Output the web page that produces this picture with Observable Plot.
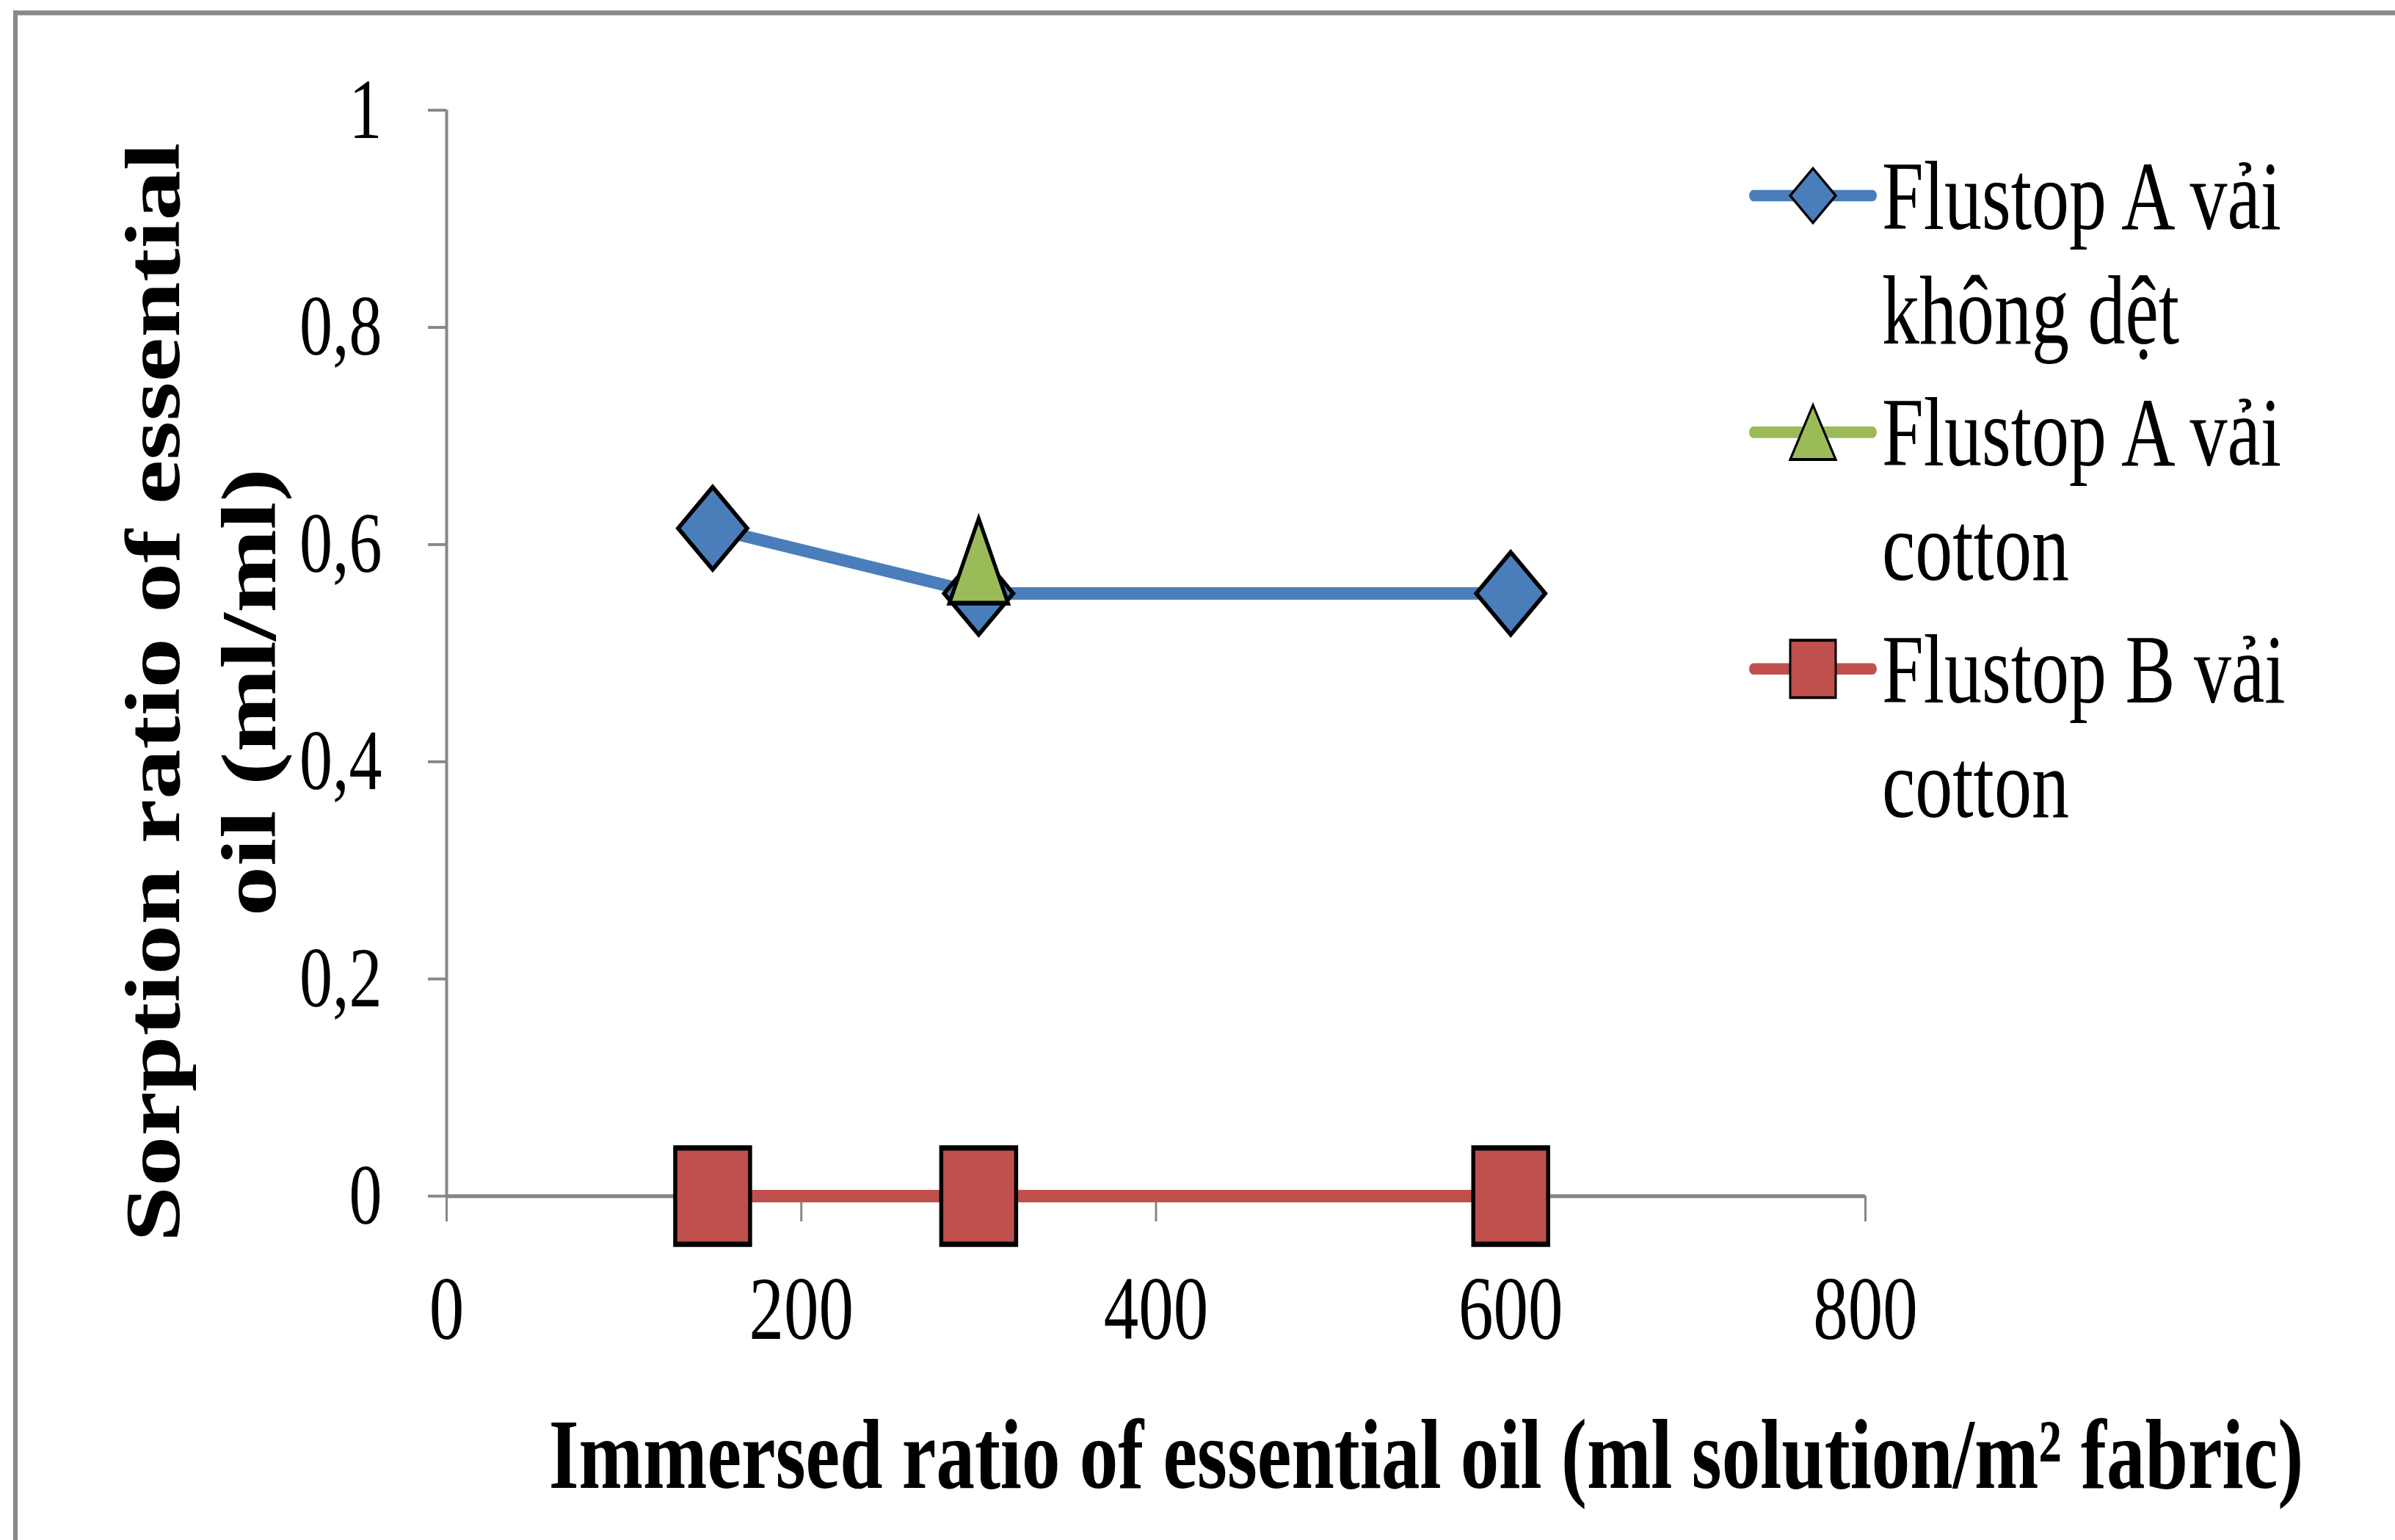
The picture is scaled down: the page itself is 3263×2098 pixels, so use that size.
<!DOCTYPE html>
<html><head><meta charset="utf-8">
<script src="https://cdn.jsdelivr.net/npm/d3@7"></script>
<script src="https://cdn.jsdelivr.net/npm/@observablehq/plot@0.6"></script>
<style>
html,body{margin:0;padding:0;background:#fff;}
body{width:3263px;height:2098px;overflow:hidden;position:relative;}
#wrap{position:absolute;left:0;top:0;width:3263px;height:1614px;transform:scaleY(1.3);transform-origin:0 0;}
#frame{position:absolute;left:18px;top:11px;width:4000px;height:3000px;border-left:6px solid #888;border-top:5px solid #888;}
#chart{position:absolute;left:0;top:0;}
#legend{position:absolute;left:0;top:0;}
</style></head><body>
<div id="wrap"><div id="frame"></div><div id="chart"></div><svg id="legend" width="3263" height="1614"></svg></div>
<script>
// ---- data ----
const xValues = [150, 300, 600];
const seriesNames = ["Flustop A vải không dệt", "Flustop A vải cotton", "Flustop B vải cotton"];
const seriesColors = ["#4A7EBB", "#9BBB59", "#C0504D"];
const blueValues = [0.615, 0.555, 0.555];
const greenX = [300];
const greenValues = [0.585];
const redValues = [0, 0, 0];
const xTicks = [0, 200, 400, 600, 800];
const xTickLabels = ["0", "200", "400", "600", "800"];
const yTicks = [0, 0.2, 0.4, 0.6, 0.8, 1];
const yTickLabels = ["0", "0,2", "0,4", "0,6", "0,8", "1"];
const xTitle = "Immersed ratio of essential oil (ml solution/m² fabric)";
const yTitle = "Sorption ratio of essential\noil (ml/ml)";

const blueData = xValues.map((x, i) => ({x, y: blueValues[i]}));
const greenData = greenX.map((x, i) => ({x, y: greenValues[i]}));
const redData = xValues.map((x, i) => ({x, y: redValues[i]}));

// ---- custom marker shapes ----
const makeDiamond = (hr) => ({draw(ctx, size) { const r = Math.sqrt(size / Math.PI);
  ctx.moveTo(0, -r * hr); ctx.lineTo(r, 0); ctx.lineTo(0, r * hr); ctx.lineTo(-r, 0); ctx.closePath(); }});
const makeTriangle = (hr) => ({draw(ctx, size) { const r = Math.sqrt(size / Math.PI);
  ctx.moveTo(0, -r * hr); ctx.lineTo(r, r * hr); ctx.lineTo(-r, r * hr); ctx.closePath(); }});
const makeSquare = (hr) => ({draw(ctx, size) { const r = Math.sqrt(size / Math.PI);
  ctx.moveTo(-r, -r * hr); ctx.lineTo(r, -r * hr); ctx.lineTo(r, r * hr); ctx.lineTo(-r, r * hr); ctx.closePath(); }});

const axisGray = "#878787";
const serif = "'Liberation Serif', 'Times New Roman', serif";

const chart = Plot.plot({
  width: 3263, height: 1614,
  marginLeft: 608, marginRight: 722, marginTop: 115, marginBottom: 361,
  x: {domain: [0, 800]},
  y: {domain: [0, 1]},
  style: {fontFamily: serif, fontSize: "90px", background: "transparent", color: "black", overflow: "visible"},
  marks: [
    Plot.ruleX([0], {stroke: axisGray, strokeWidth: 4}),
    Plot.ruleY([0], {stroke: axisGray, strokeWidth: 4}),
    Plot.axisY({ticks: yTicks, tickSize: 25, tickPadding: 63, tickFormat: d => yTickLabels[yTicks.indexOf(d)],
      stroke: axisGray, strokeWidth: 3, fill: "black", fontSize: 90, label: null}),
    Plot.axisX({ticks: xTicks, tickSize: 27, tickPadding: 55, tickFormat: d => xTickLabels[xTicks.indexOf(d)],
      stroke: axisGray, strokeWidth: 3, fill: "black", fontSize: 95, label: null}),
    Plot.line(blueData, {x: "x", y: "y", stroke: seriesColors[0], strokeWidth: 13}),
    Plot.dot(blueData, {x: "x", y: "y", symbol: makeDiamond(0.92), r: 47, fill: seriesColors[0], stroke: "black", strokeWidth: 5}),
    Plot.line(greenData, {x: "x", y: "y", stroke: seriesColors[1], strokeWidth: 13}),
    Plot.dot(greenData, {x: "x", y: "y", symbol: makeTriangle(1.11), r: 40, fill: seriesColors[1], stroke: "black", strokeWidth: 5}),
    Plot.line(redData, {x: "x", y: "y", stroke: seriesColors[2], strokeWidth: 13}),
    Plot.dot(redData, {x: "x", y: "y", symbol: makeSquare(0.99), r: 51, fill: seriesColors[2], stroke: "black", strokeWidth: 5.5}),
    Plot.text([yTitle], {text: d => d, frameAnchor: "left", dx: -341, dy: 41, rotate: -90,
      fontWeight: "bold", fontSize: 105, lineHeight: 1.25, textAnchor: "middle", fill: "black"}),
    Plot.text([xTitle], {text: d => d, frameAnchor: "bottom", dx: 368, dy: 306,
      fontWeight: "bold", fontSize: 105, textAnchor: "middle", fill: "black"})
  ]
});
document.getElementById("chart").appendChild(chart);

// ---- legend ----
const lg = d3.select("#legend").style("font-family", serif);
const legendSymbols = [makeDiamond(0.92), makeTriangle(0.92), makeSquare(0.97)];
seriesNames.forEach((name, i) => {
  const base = 240 + 248 * i;
  const ly = base - 35;
  const g = lg.append("g");
  g.append("line").attr("x1", 2389).attr("x2", 2551).attr("y1", ly).attr("y2", ly)
    .attr("stroke", seriesColors[i]).attr("stroke-width", 12).attr("stroke-linecap", "round");
  g.append("path").attr("transform", `translate(2470,${ly})`)
    .attr("d", d3.symbol(legendSymbols[i], 31 * 31 * Math.PI)())
    .attr("fill", seriesColors[i]).attr("stroke", "black").attr("stroke-width", 3);
  const words = name.split(" ");
  const lines = [words.slice(0, 3).join(" "), words.slice(3).join(" ")];
  const t = g.append("text").attr("font-size", 102).attr("fill", "black");
  lines.forEach((ln, j) => t.append("tspan").attr("x", 2564).attr("y", base + 120 * j).text(ln));
});
</script>
</body></html>
